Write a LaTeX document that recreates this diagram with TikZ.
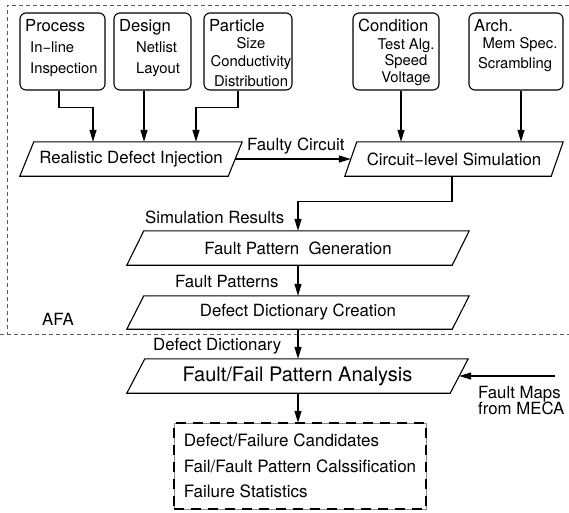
\documentclass[tikz,border=0pt]{standalone}
\usepackage{fontspec}
\setmainfont{TeX Gyre Heros}
\usetikzlibrary{arrows.meta}

% parallelogram outline drawn over a plain rectangular node
\newcommand\slantframe[2]{%
  \draw[frame] ([xshift=#2]#1.north west) -- (#1.north east)
    -- ([xshift=-#2]#1.south east) -- (#1.south west) -- cycle;}

\begin{document}
\begin{tikzpicture}[x=1pt,y=-1pt,
  frame/.style={line width=1.1pt, line join=miter},
  infobox/.style={draw, line width=1.1pt, rounded corners=6pt, inner sep=0pt},
  stage/.style={inner sep=0pt, font=\fontsize{16.8}{18}\selectfont},
  bigstage/.style={inner sep=0pt, font=\fontsize{20}{22}\selectfont},
  title/.style={inner sep=0pt, anchor=base west, font=\fontsize{16.6}{18}\selectfont},
  itemL/.style={inner sep=0pt, anchor=base west, font=\fontsize{14.8}{16}\selectfont},
  itemC/.style={inner sep=0pt, anchor=base, font=\fontsize{14.8}{16}\selectfont},
  lbl/.style={inner sep=0pt, anchor=base west, font=\fontsize{16.8}{18}\selectfont},
  flow/.style={line width=1.4pt, -{Triangle[length=12pt,width=7pt]}},
  afa/.style={draw=black!65, line width=0.8pt, dash pattern=on 4pt off 3pt},
  resultbox/.style={draw=black!45, line width=0.5pt, inner sep=0pt,
    minimum width=252pt, minimum height=86pt, align=left,
    font=\fontsize{17}{25.5}\selectfont,
    postaction={draw=black, line width=2.4pt, dash pattern=on 10pt off 7pt}}
]
\useasboundingbox (0,0) rectangle (569,512);

% AFA region boundary
\draw[afa] (569,5) -- (7,5) -- (7,334);
\draw[afa] (0,334) -- (569,334);
\node[lbl] (afa) at (42,325) {AFA};

% input boxes
\node[infobox, minimum width=85pt, minimum height=77pt] (process)   at (62.5,51.5) {};
\node[infobox, minimum width=77pt, minimum height=77pt] (design)    at (152.5,51.5) {};
\node[infobox, minimum width=88pt, minimum height=77pt] (particle)  at (248,51.5) {};
\node[infobox, minimum width=86pt, minimum height=77pt] (condition) at (396,51.5) {};
\node[infobox, minimum width=94pt, minimum height=77pt] (arch)      at (516,51.5) {};

\node[title] (t1) at (25,31)  {Process};
\node[itemL] (t1a) at (30,52.3) {In−line};
\node[itemL] (t1b) at (30,73.5) {Inspection};

\node[title] (t2) at (119,31) {Design};
\node[itemL] (t2a) at (136,52.3) {Netlist};
\node[itemL] (t2b) at (136,73.5) {Layout};

\node[title] (t3) at (209,31) {Particle};
\node[itemC] (t3a) at (251,48)   {Size};
\node[itemC] (t3b) at (251,66.5) {Conductivity};
\node[itemC] (t3c) at (251,86)   {Distribution};

\node[title] (t4) at (358,31) {Condition};
\node[itemC] (t4a) at (406,49) {Test Alg.};
\node[itemC] (t4b) at (406,65) {Speed};
\node[itemC] (t4c) at (406,82) {Voltage};

\node[title] (t5) at (474,31) {Arch.};
\node[itemC] (t5a) at (520,48) {Mem Spec.};
\node[itemC] (t5b) at (515,68) {Scrambling};

% processing stages
\node[stage, minimum width=222pt, minimum height=34pt] (rdi)  at (131,159)   {Realistic Defect Injection};
\node[stage, minimum width=218pt, minimum height=34pt] (cls)  at (454,159)   {Circuit−level Simulation};
\node[stage, minimum width=342pt, minimum height=34pt] (fpg)  at (298,248)   {Fault Pattern~ Generation};
\node[stage, minimum width=342pt, minimum height=33pt] (ddc)  at (298,312.5) {Defect Dictionary Creation};
\node[bigstage, minimum width=341pt, minimum height=34pt] (ffpa) at (297.5,376) {Fault/Fail Pattern Analysis};
\slantframe{rdi}{14pt}
\slantframe{cls}{12pt}
\slantframe{fpg}{17pt}
\slantframe{ddc}{17pt}
\slantframe{ffpa}{18pt}

% outputs
\node[resultbox] (result) at (300,466)
  {Defect/Failure Candidates\\Fail/Fault Pattern Calssification\\Failure Statistics};

% connectors
\draw[flow] ([xshift=-3.5pt]process.south) -- ++(0,17) -| ([xshift=-38pt]rdi.north);
\draw[flow] ([xshift=-8.5pt]design.south) -- ([xshift=-8.5pt]design.south |- rdi.north);
\draw[flow] ([xshift=-10pt]particle.south) -- ++(0,17) -| ([xshift=65pt]rdi.north);
\draw[flow] ([xshift=5pt]condition.south) -- ([xshift=5pt]condition.south |- cls.north);
\draw[flow] ([xshift=5pt]arch.south) -- ([xshift=5pt]arch.south |- cls.north);

\draw[flow] ([xshift=-7pt]rdi.east) -- ([xshift=6pt]cls.west);
\node[lbl] (lfc) at (247,150) {Faulty Circuit};

\draw[flow] ([xshift=-2pt]cls.south) -- ++(0,25) -| (fpg.north);
\node[lbl] (lsr) at (145,223) {Simulation Results};

\draw[flow] (fpg.south) -- (ddc.north);
\node[lbl] (lfp) at (175,287) {Fault Patterns};

\draw[flow] (ddc.south) -- (ddc.south |- ffpa.north);
\node[lbl] (ldd) at (153,350) {Defect Dictionary};

\draw[flow] (ffpa.south -| ddc.south) -- (ddc.south |- result.north);

\coordinate (meca) at (555,376);
\draw[flow] (meca) -- ([xshift=-9pt]ffpa.east);
\node[lbl] (lfm1) at (478,398) {Fault Maps};
\node[lbl] (lfm2) at (478,414) {from MECA};
\end{tikzpicture}
\end{document}
